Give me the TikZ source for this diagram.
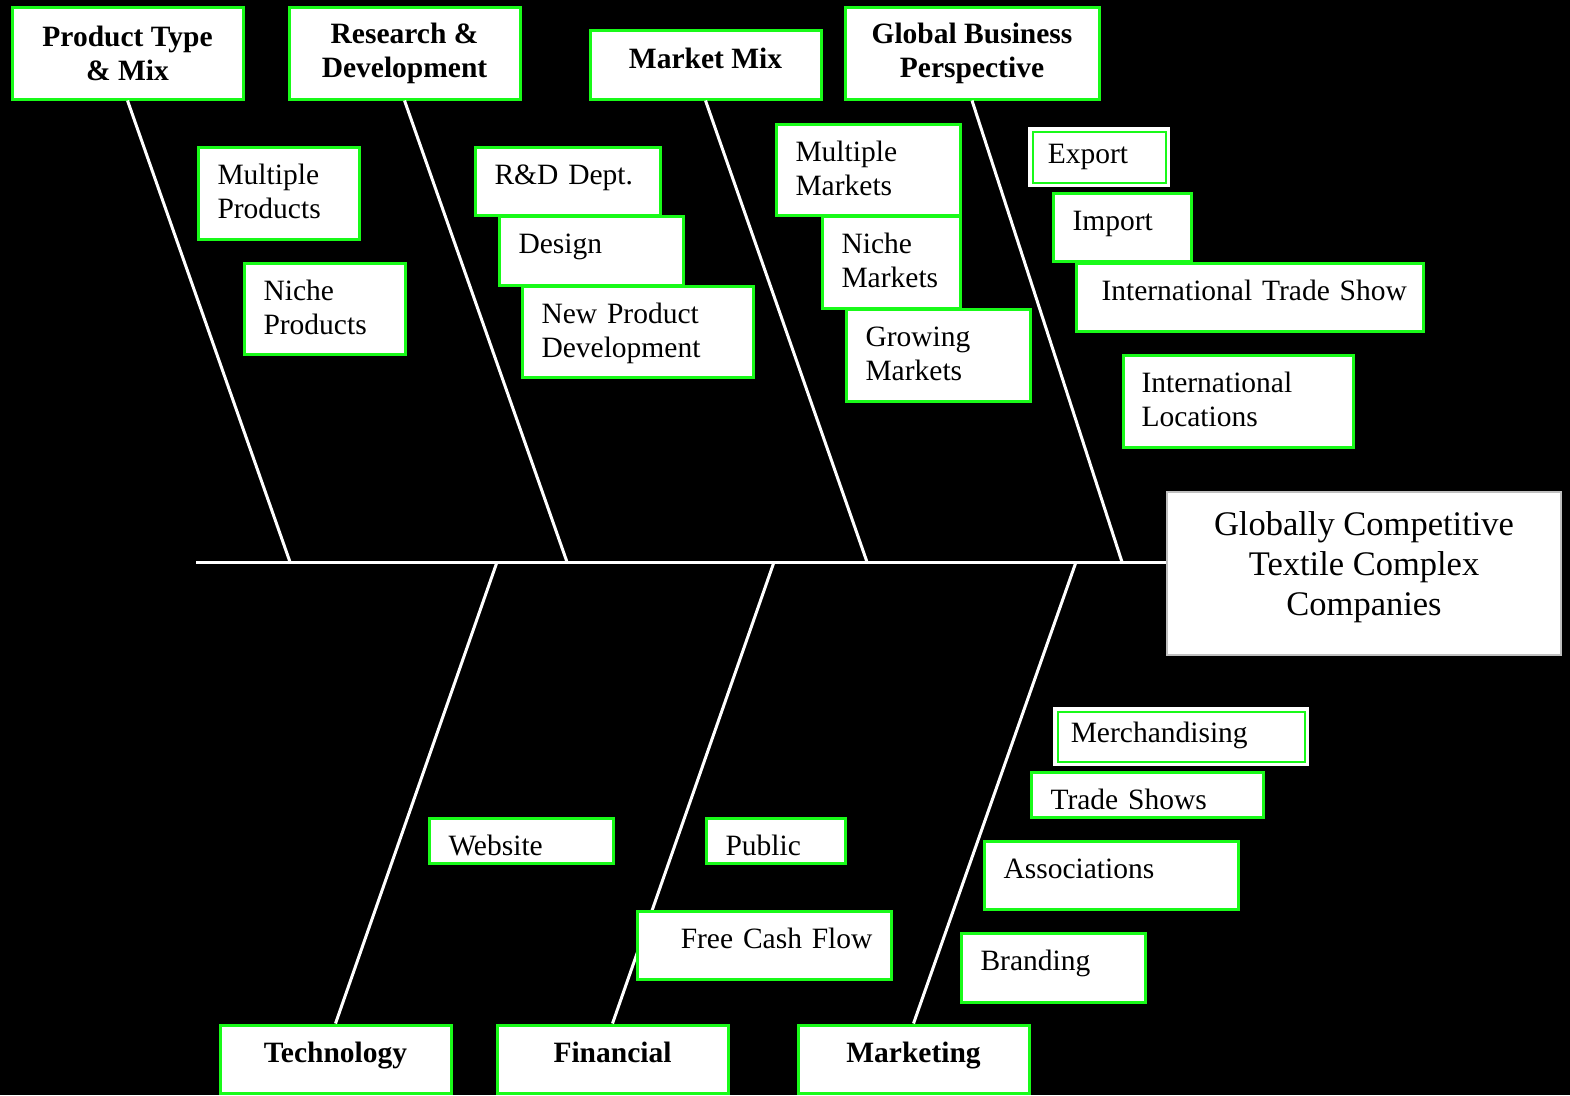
\documentclass[tikz,border=0pt]{standalone}
\usepackage{fontspec}
\setmainfont{Liberation Serif}
\usepackage{tikz}
\usetikzlibrary{positioning}
\definecolor{boxgreen}{RGB}{25,250,25}
\tikzset{
    head/.style={
        rectangle, draw=boxgreen, line width=3pt, fill=white,
        align=center, inner sep=0pt,
        font=\bfseries\fontsize{29.5}{34}\selectfont,
        minimum width=231pt, minimum height=92pt,
    },
    item/.style={
        rectangle, draw=boxgreen, line width=3pt, fill=white,
        anchor=north west, align=left, inner xsep=19pt, inner ysep=0pt,
        text height=37pt,
        font=\fontsize{29.5}{34}\selectfont,
    },
    framed/.style={
        item, line width=1.5pt, text height=32pt,
        preaction={draw=white, line width=9pt},
    },
    bone/.style={
        draw=white, line width=3pt,
    },
}

\begin{document}
\begin{tikzpicture}[x=1pt,y=-1pt]
    \fill[black] (0,0) rectangle (1570,1095);
    \useasboundingbox (0,0) rectangle (1570,1095);
    % effect and causes
    \node[rectangle, draw=gray!50, line width=1.5pt, fill=white, align=center,
          font=\fontsize{34.5}{40}\selectfont, minimum width=394pt,
          minimum height=163pt, text depth=20pt] (goal) at (1364,573.5)
          {Globally Competitive\\Textile Complex\\Companies};
    \node[head] (ptm) at (127.5,53) {Product Type\\\& Mix};
    \node[head] (rnd) at (404.5,53) {Research \&\\Development};
    \node[head, minimum height=0pt, text height=38pt, text depth=31pt] (mmix) at (705.5,64.5) {Market Mix};
    \node[head, minimum width=254pt] (gbp) at (972,53) {Global Business\\Perspective};
    \node[head, minimum height=0pt, text height=37pt, text depth=31pt] (tech) at (335.5,1059) {Technology};
    \node[head, minimum height=0pt, text height=37pt, text depth=31pt] (fin) at (612.5,1059) {Financial};
    \node[head, minimum height=0pt, text height=37pt, text depth=31pt] (mkt) at (913.5,1059) {Marketing};
    % spine and bones
    \coordinate (tail) at (196,562);
    \coordinate (j1) at (290,562);
    \coordinate (j2) at (567,562);
    \coordinate (j3) at (867,562);
    \coordinate (j4) at (1122,562);
    \coordinate (j5) at (497,562);
    \coordinate (j6) at (774,562);
    \coordinate (j7) at (1076,562);
    \draw[bone] (tail) -- (tail -| goal.west);
    \draw[bone] (ptm.south) -- (j1);
    \draw[bone] (rnd.south) -- (j2);
    \draw[bone] (mmix.south) -- (j3);
    \draw[bone] (gbp.south) -- (j4);
    \draw[bone] (tech.north) -- (j5);
    \draw[bone] (fin.north) -- (j6);
    \draw[bone] (mkt.north) -- (j7);
    % sub causes
    \node[item, text width=123pt, text depth=55pt] (mprod) at (197,146) {Multiple\\Products};
    \node[item, text width=123pt, text depth=54pt] (nprod) at (243,262) {Niche\\Products};
    \node[item, text width=147pt, text depth=31pt] (rdd) at (474,146) {R\&D Dept.};
    \node[item, text width=146pt, text depth=32pt] (des) at (498,215) {Design};
    \node[item, text width=193pt, text depth=54pt] (npd) at (521,285) {New Product\\Development};
    \node[item, text width=146pt, text depth=54pt] (mmk) at (775,123) {Multiple\\Markets};
    \node[item, text width=100pt, text depth=55pt] (nmk) at (821,215) {Niche\\Markets};
    \node[item, text width=146pt, text depth=55pt] (gmk) at (845,308) {Growing\\Markets};
    \node[framed, inner xsep=15pt, text width=103pt, text depth=19pt] (exp) at (1032,131) {Export};
    \node[item, text width=100pt, text depth=31pt] (imp) at (1052,192) {Import};
    \node[item, inner xsep=25pt, text width=297pt, text depth=31pt] (its) at (1075,262) {\hbox{International Trade Show}};
    \node[item, inner xsep=18pt, text width=194pt, text depth=55pt] (iloc) at (1122,354) {International\\Locations};
    \node[item, text width=146pt, text depth=8pt] (web) at (428,817) {Website};
    \node[item, text width=101pt, text depth=8pt] (pub) at (705,817) {Public};
    \node[item, align=right, text width=216pt, text depth=31pt] (fcf) at (636,910) {Free Cash Flow};
    \node[framed, inner xsep=13pt, text width=221pt, text depth=19pt, text height=31pt] (merch) at (1057,711) {Merchandising};
    \node[item, text width=194pt, text depth=8pt] (trs) at (1030,771) {Trade Shows};
    \node[item, text width=216pt, text depth=31pt] (assoc) at (983,840) {Associations};
    \node[item, text width=146pt, text depth=32pt] (brand) at (960,932) {Branding};
\end{tikzpicture}
\end{document}
